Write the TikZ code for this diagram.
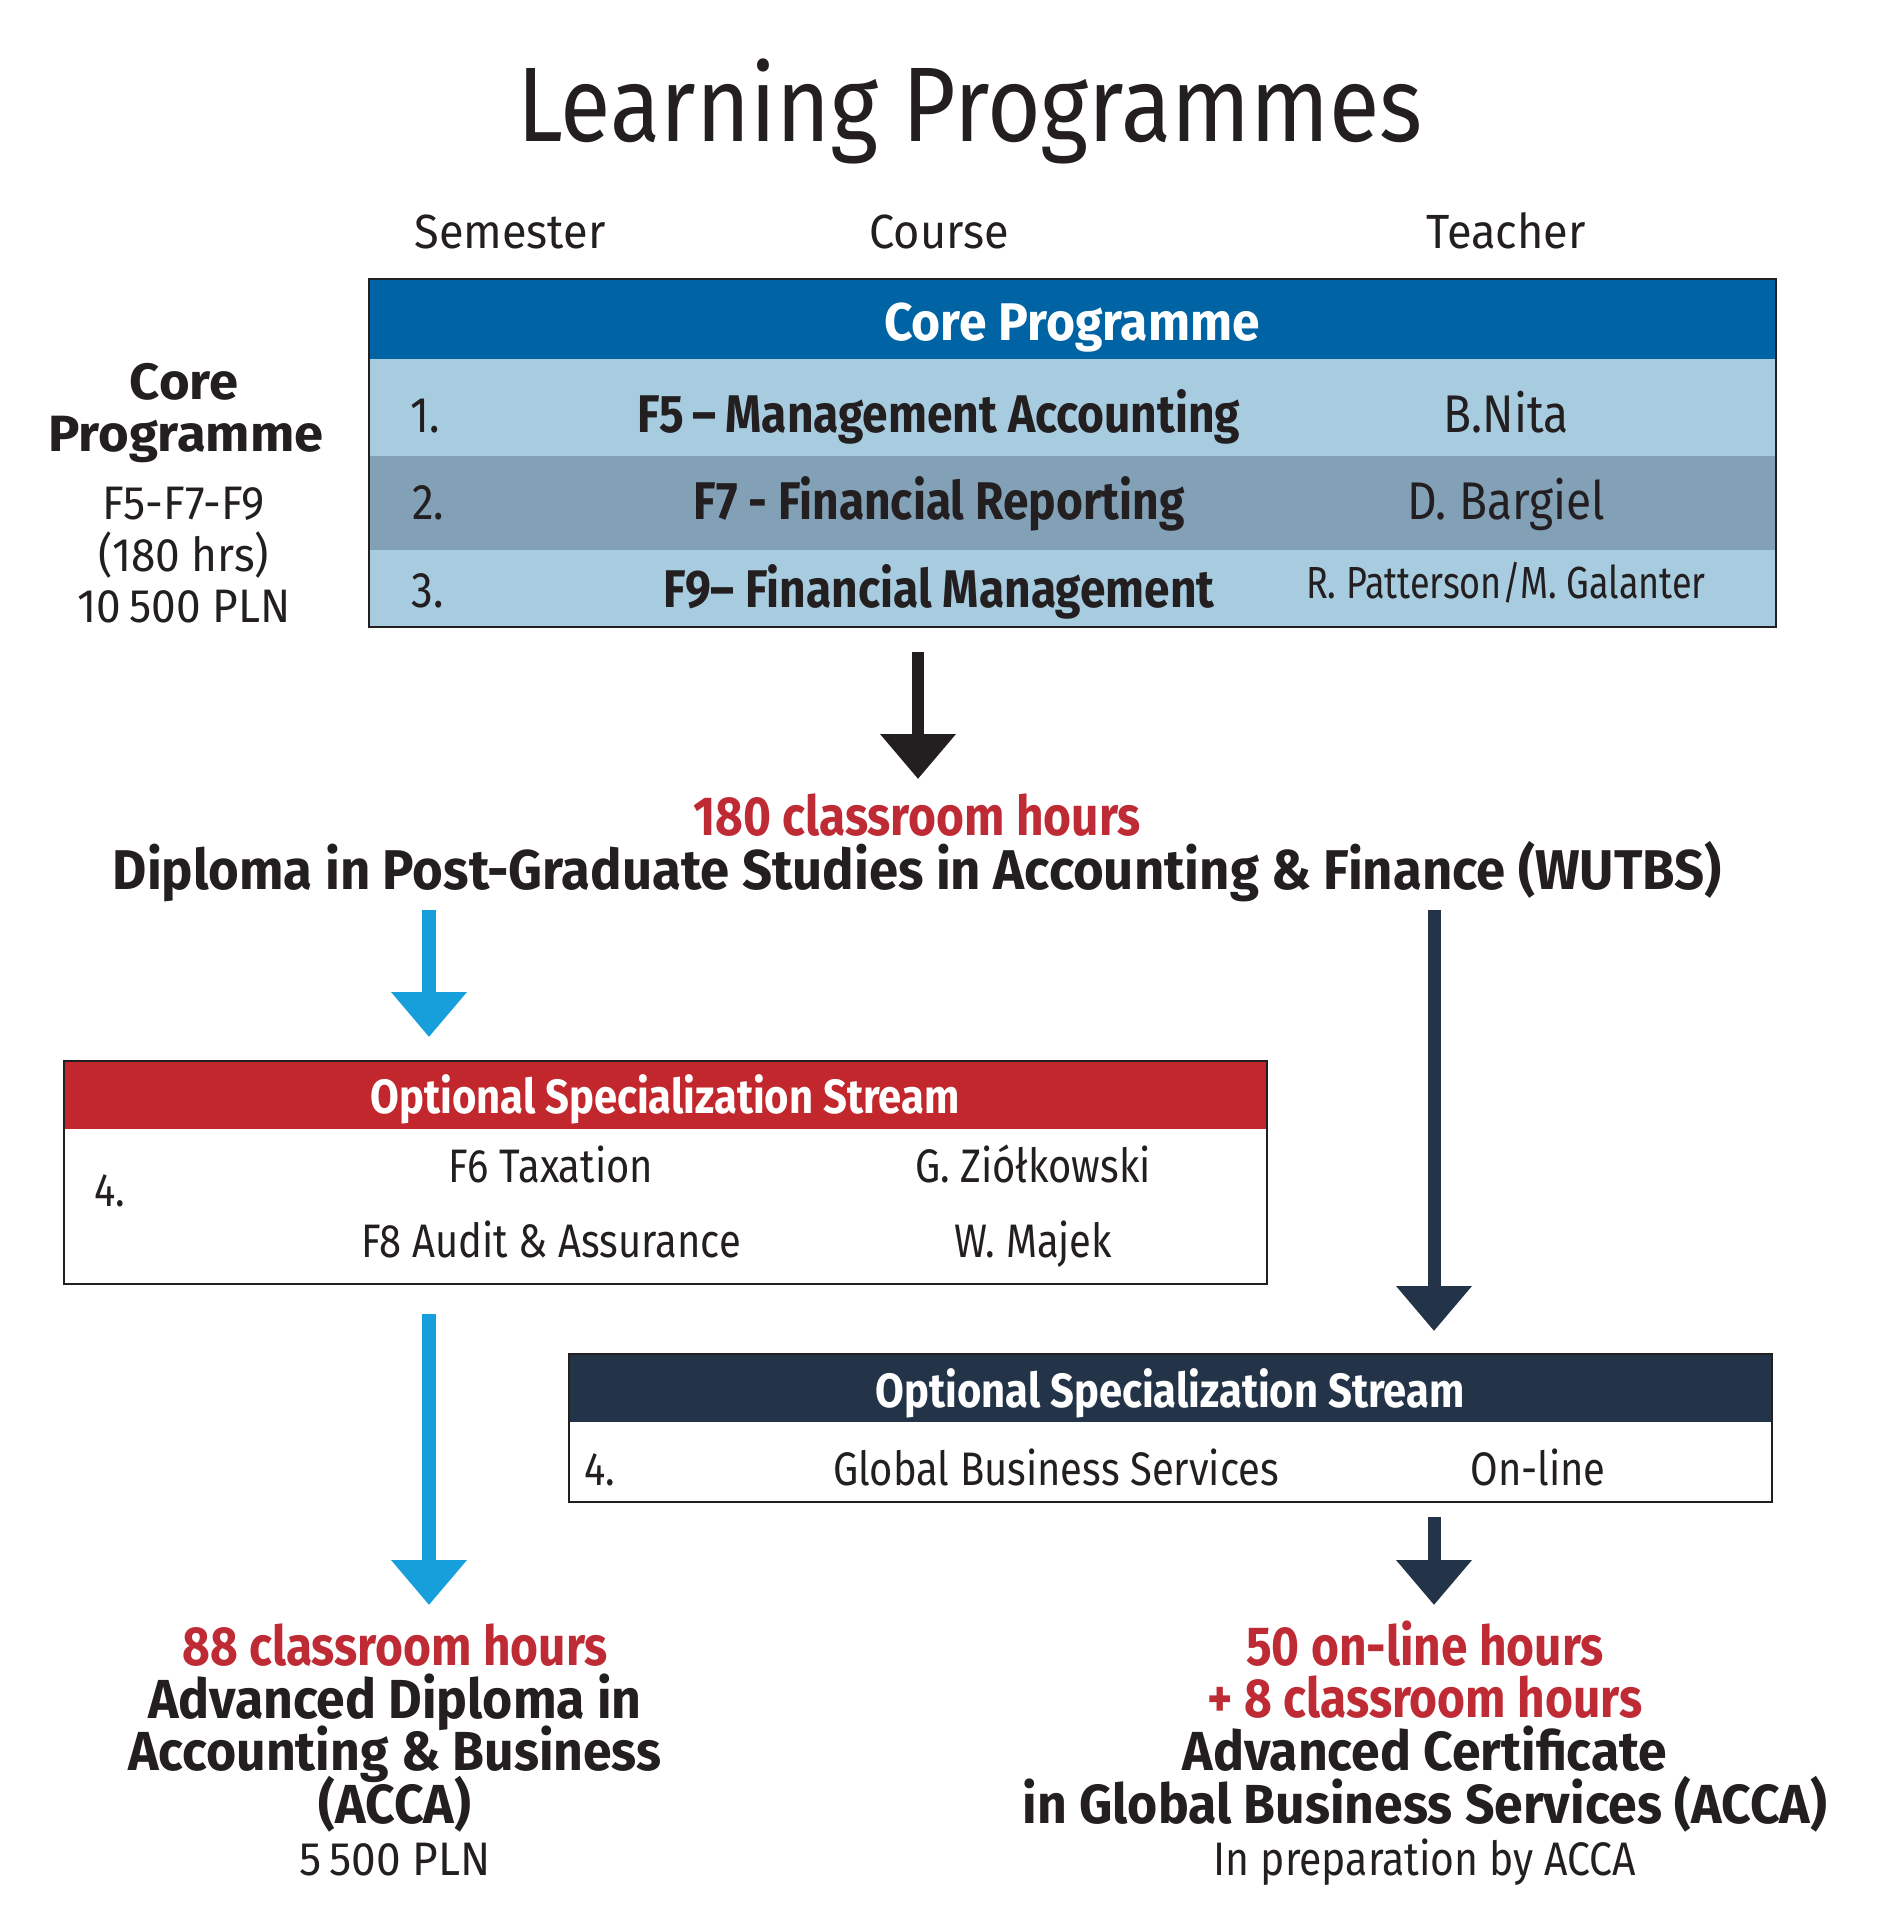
\documentclass[tikz,border=0pt]{standalone}
\usepackage{fontspec}
\setmainfont[FakeStretch=0.87]{Fira Sans}
\newfontfamily\fwide[FakeStretch=0.94]{Fira Sans}
\newfontfamily\fwider[FakeStretch=1.03]{Fira Sans}
\newfontfamily\fnarrow[FakeStretch=0.80]{Fira Sans}
\newfontfamily\fopt[FakeStretch=0.85]{Fira Sans}
\usetikzlibrary{arrows.meta}
\definecolor{ink}{HTML}{231F20}
\definecolor{coreblue}{HTML}{0064A4}
\definecolor{rowlight}{HTML}{A8CCDF}
\definecolor{rowdark}{HTML}{82A1B7}
\definecolor{optred}{HTML}{C1272D}
\definecolor{navy}{HTML}{233348}
\definecolor{skyblue}{HTML}{169FDB}
\definecolor{hourred}{HTML}{BE2B35}
\newcommand{\fsz}[1]{\fontsize{#1}{#1}\selectfont}
\tikzset{
  txt/.style={inner sep=0pt, anchor=base, text=ink},
  colhead/.style={txt, font=\fwide\fsz{48}},
  rowtxt/.style={txt, font=\fsz{53}\bfseries},
  rownum/.style={txt, font=\fsz{50}},
  teach/.style={txt, font=\fsz{53}},
  bandtxt/.style={txt, text=white, font=\fwide\fsz{53}\bfseries},
  opthead/.style={txt, text=white, font=\fsz{48}\bfseries},
  opttxt/.style={txt, font=\fopt\fsz{47}},
  hours/.style={txt, text=hourred, font=\fsz{55}\bfseries},
  award/.style={txt, font=\fwide\fsz{55}\bfseries},
  plain/.style={txt, font=\fwide\fsz{47}},
  frame/.style={draw=ink, line width=1.5pt},
  bigarrow/.style={line width=#1, -{Triangle[width=73pt,length=45pt]}},
}
\begin{document}
\begin{tikzpicture}[x=1pt,y=-1pt]
\useasboundingbox (0,0) rectangle (1897,1921);

% title
\node[txt, font=\fsz{106}] (title) at (970,142) {Learning Programmes};
\node[colhead] (hsem) at (510,248) {Semester};
\node[colhead] (hcourse) at (939,248) {Course};
\node[colhead] (hteach) at (1506,248) {Teacher};

% core table
\fill[coreblue] (369,279) rectangle (1776,359);
\fill[rowlight] (369,359) rectangle (1776,456);
\fill[rowdark] (369,456) rectangle (1776,550);
\fill[rowlight] (369,550) rectangle (1776,627);
\node[frame, minimum width=1407pt, minimum height=348pt, inner sep=0pt] (core) at (1072.5,453) {};
\node[bandtxt] (coretitle) at (1072,340) {Core Programme};
\node[rownum] (n1) at (425,432) {1.};
\node[rownum] (n2) at (428,519) {2.};
\node[rownum] (n3) at (428,607) {3.};
\node[rowtxt] (c1) at (939,432) {F5\,–\,Management Accounting};
\node[rowtxt] (c2) at (939,519) {F7 - Financial Reporting};
\node[rowtxt] (c3) at (939,607) {F9– Financial Management};
\node[teach] (t1) at (1506,432) {B.Nita};
\node[teach] (t2) at (1506,519) {D. Bargiel};
\node[txt, font=\fnarrow\fsz{45}] (t3) at (1506,598) {R. Patterson/M. Galanter};

% left side summary
\node[txt, font=\fwider\fsz{51}\bfseries] (lcore) at (184,399) {Core};
\begin{scope}
\clip (49,405) rectangle (369,470);
\node[txt, font=\fwider\fsz{51}\bfseries] (lprog) at (186,451) {Programme};
\end{scope}
\node[plain] (lf) at (184,519) {F5-F7-F9};
\node[plain] (lh) at (184,571) {(180 hrs)};
\node[plain] (lp) at (184,622) {10\,500 PLN};

% diploma
\coordinate (a1s) at (918,652);
\coordinate (a1e) at (918,779);
\draw[bigarrow=12pt, draw=ink, fill=ink] (a1s) -- (a1e);
\node[hours] (h180) at (917,835) {180 classroom hours};
\node[award, font=\fwide\fsz{56}\bfseries] (dipl) at (917,889) {Diploma in Post-Graduate Studies in Accounting \& Finance (WUTBS)};

% arrows from diploma
\coordinate (a2s) at (429,910);
\coordinate (a2e) at (429,1037);
\draw[bigarrow=14pt, draw=skyblue, fill=skyblue] (a2s) -- (a2e);
\coordinate (a3s) at (1434,910);
\coordinate (a3e) at (1434,1331);
\draw[bigarrow=13pt, draw=navy, fill=navy] (a3s) -- (a3e);

% red optional box
\fill[optred] (64,1061) rectangle (1267,1129);
\node[frame, minimum width=1203pt, minimum height=223pt, inner sep=0pt] (optA) at (665.5,1172.5) {};
\node[opthead] (optAt) at (665,1113) {Optional Specialization Stream};
\node[opttxt] (optAn) at (110,1206) {4.};
\node[opttxt] (optA1) at (551,1182) {F6 Taxation};
\node[opttxt] (optA2) at (551,1257) {F8 Audit \& Assurance};
\node[opttxt] (optA3) at (1033,1182) {G. Ziółkowski};
\node[opttxt] (optA4) at (1033,1257) {W. Majek};

% navy optional box
\fill[navy] (569,1354) rectangle (1772,1422);
\node[frame, minimum width=1203pt, minimum height=148pt, inner sep=0pt] (optB) at (1170.5,1428) {};
\node[opthead] (optBt) at (1170,1407) {Optional Specialization Stream};
\node[opttxt] (optBn) at (600,1485) {4.};
\node[opttxt] (optB1) at (1056,1485) {Global Business Services};
\node[opttxt] (optB2) at (1538,1485) {On-line};

% lower arrows
\coordinate (a4s) at (429,1314);
\coordinate (a4e) at (429,1605);
\draw[bigarrow=14pt, draw=skyblue, fill=skyblue] (a4s) -- (a4e);
\coordinate (a5s) at (1434,1517);
\coordinate (a5e) at (1434,1605);
\draw[bigarrow=13pt, draw=navy, fill=navy] (a5s) -- (a5e);

% bottom left
\node[hours] (bl1) at (395,1665) {88 classroom hours};
\node[award] (bl2) at (395,1718) {Advanced Diploma in};
\node[award] (bl3) at (395,1770) {Accounting \& Business};
\node[award] (bl4) at (395,1823) {(ACCA)};
\node[plain] (bl5) at (395,1875) {5\,500 PLN};

% bottom right
\node[hours] (br1) at (1425,1665) {50 on-line hours};
\node[hours] (br2) at (1425,1717) {+ 8 classroom hours};
\node[award] (br3) at (1425,1770) {Advanced Certificate};
\node[award] (br4) at (1425,1823) {in Global Business Services (ACCA)};
\node[txt, font=\fsz{47}] (br5) at (1425,1875) {In preparation by ACCA};
\end{tikzpicture}
\end{document}
